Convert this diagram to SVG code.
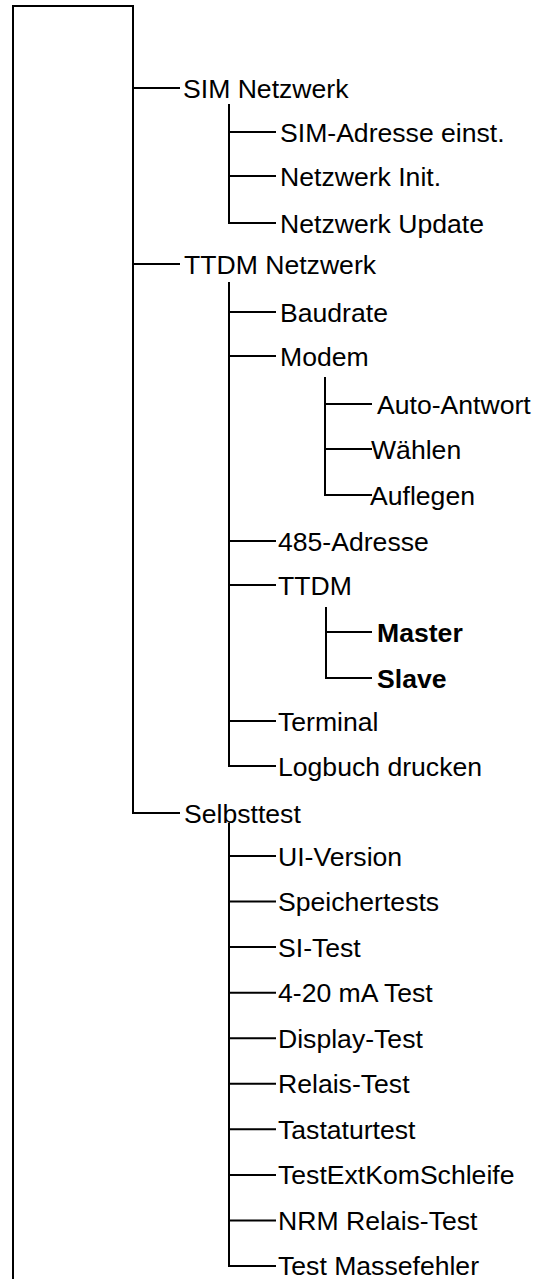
<svg xmlns="http://www.w3.org/2000/svg" width="537" height="1279" viewBox="0 0 537 1279">
<style>
.c{fill:none;stroke:#000;stroke-width:2}
text{font-family:"Liberation Sans",Arial,sans-serif;font-size:26.6px;fill:#000}
.b{font-weight:bold}
</style>
<rect width="537" height="1279" fill="#fff"/>
<g id="connectors">
<path class="c" d="M13,1279V6H133V813H180"/>
<path class="c" d="M133,88H180M133,264H180"/>
<path class="c" d="M229,104V223H276M229,132H276M229,176H276"/>
<path class="c" d="M229,282V766H276M229,312H276M229,356H276M229,541H276M229,585H276M229,721H276"/>
<path class="c" d="M325,377V495H372M325,404H372M325,449H372"/>
<path class="c" d="M326,607V678H372M326,632H372"/>
<path class="c" d="M229,823V1266H276M229,856H276M229,901.6H276M229,947.1H276M229,992.7H276M229,1038.2H276M229,1083.8H276M229,1129.3H276M229,1174.9H276M229,1220.4H276"/>
</g>
<g id="n-sim"><text x="183" y="97.5">SIM Netzwerk</text></g>
<g id="n-sim-adr"><text x="280" y="141.5">SIM-Adresse einst.</text></g>
<g id="n-init"><text x="280" y="185.5">Netzwerk Init.</text></g>
<g id="n-update"><text x="280" y="232.5">Netzwerk Update</text></g>
<g id="n-ttdm-net"><text x="184" y="273.5">TTDM Netzwerk</text></g>
<g id="n-baud"><text x="280" y="321.5">Baudrate</text></g>
<g id="n-modem"><text x="280" y="365.5">Modem</text></g>
<g id="n-auto"><text x="377" y="413.5">Auto-Antwort</text></g>
<g id="n-waehlen"><text x="371" y="458.5">Wählen</text></g>
<g id="n-aufl"><text x="370" y="504.5">Auflegen</text></g>
<g id="n-485"><text x="278" y="550.5">485-Adresse</text></g>
<g id="n-ttdm"><text x="278" y="594.5">TTDM</text></g>
<g id="n-master"><text class="b" x="377" y="641.5">Master</text></g>
<g id="n-slave"><text class="b" x="377" y="687.5">Slave</text></g>
<g id="n-terminal"><text x="278" y="730.5">Terminal</text></g>
<g id="n-logbuch"><text x="278" y="775.5">Logbuch drucken</text></g>
<g id="n-selbst"><text x="184" y="822.5">Selbsttest</text></g>
<g id="n-ui"><text x="278" y="865.5">UI-Version</text></g>
<g id="n-speicher"><text x="278" y="911">Speichertests</text></g>
<g id="n-si"><text x="278" y="956.5">SI-Test</text></g>
<g id="n-420"><text x="278" y="1002">4-20 mA Test</text></g>
<g id="n-display"><text x="278" y="1047.5">Display-Test</text></g>
<g id="n-relais"><text x="278" y="1093">Relais-Test</text></g>
<g id="n-tastatur"><text x="278" y="1138.5">Tastaturtest</text></g>
<g id="n-extkom"><text x="278" y="1184">TestExtKomSchleife</text></g>
<g id="n-nrm"><text x="278" y="1229.5">NRM Relais-Test</text></g>
<g id="n-masse"><text x="278" y="1275">Test Massefehler</text></g>
</svg>
